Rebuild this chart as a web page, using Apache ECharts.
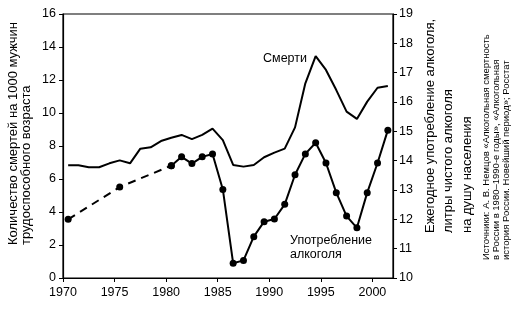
<!DOCTYPE html>
<html>
<head>
<meta charset="utf-8">
<script src="https://cdn.jsdelivr.net/npm/echarts@6/dist/echarts.min.js"></script>
<style>
  html, body { margin: 0; padding: 0; background: #fff; }
  #chart { width: 526px; height: 309px; }
</style>
</head>
<body>
<div id="chart"></div>
<script>
// годы (точки стоят в середине года)
var years = [1970, 1971, 1972, 1973, 1974, 1975, 1976, 1977, 1978, 1979,
  1980, 1981, 1982, 1983, 1984, 1985, 1986, 1987, 1988, 1989,
  1990, 1991, 1992, 1993, 1994, 1995, 1996, 1997, 1998, 1999, 2000, 2001];

// смерти на 1000 мужчин трудоспособного возраста
var deaths = [6.83, 6.83, 6.71, 6.71, 6.95, 7.13, 6.95, 7.84, 7.92, 8.30,
  8.50, 8.67, 8.42, 8.67, 9.05, 8.36, 6.85, 6.75, 6.85, 7.32,
  7.60, 7.84, 9.13, 11.80, 13.45, 12.61, 11.39, 10.08, 9.64, 10.69, 11.53, 11.64];

// потребление алкоголя, 1970-1980 (пунктир)
var alcoEarlyYears = [1970, 1975, 1980];
var alcoEarly = [12.0, 13.1, 13.83];

// потребление алкоголя, 1980-2001
var alcoYears = years.slice(10);
var alco = [13.83, 14.13, 13.90, 14.13, 14.23, 13.02, 10.50, 10.60, 11.41, 11.92,
  12.01, 12.51, 13.52, 14.23, 14.61, 13.92, 12.91, 12.11, 11.71, 12.91, 13.92, 15.04];

var font = '"Liberation Sans", Arial, sans-serif';

function pairs(xs, ys) {
  return xs.map(function (x, i) { return [x + 0.5, ys[i]]; });
}

var myChart = echarts.init(document.getElementById('chart'));

myChart.setOption({
  backgroundColor: '#fff',
  animation: false,
  grid: {
    left: 63, right: 133, top: 14, bottom: 31,
    show: true, borderColor: '#000', borderWidth: 1.2
  },
  xAxis: {
    type: 'value', min: 1970, max: 2002, interval: 5,
    axisLine: { lineStyle: { color: '#000', width: 1.2 } },
    axisTick: { show: true, inside: false, length: 4, lineStyle: { color: '#000' } },
    axisLabel: {
      color: '#000', fontFamily: font, fontSize: 12.5, margin: 8, showMaxLabel: false,
      formatter: function (v) { return String(v); }
    },
    splitLine: { show: false }
  },
  yAxis: [{
    type: 'value', min: 0, max: 16, interval: 2,
    axisLine: { show: true, lineStyle: { color: '#000', width: 1.2 } },
    axisTick: { show: true, length: 4, lineStyle: { color: '#000' } },
    axisLabel: { color: '#000', fontFamily: font, fontSize: 12.5, margin: 7 },
    splitLine: { show: false }
  }, {
    type: 'value', min: 10, max: 19, interval: 1,
    position: 'right',
    axisLine: { show: true, lineStyle: { color: '#000', width: 1.2 } },
    axisTick: { show: true, length: 4, lineStyle: { color: '#000' } },
    axisLabel: { color: '#000', fontFamily: font, fontSize: 12.5, margin: 6 },
    splitLine: { show: false }
  }],
  series: [{
    name: 'Смерти',
    type: 'line',
    yAxisIndex: 0,
    data: pairs(years, deaths),
    symbol: 'none',
    lineStyle: { color: '#000', width: 2 }
  }, {
    name: 'Алкоголь 1970-1980',
    type: 'line',
    yAxisIndex: 1,
    data: pairs(alcoEarlyYears, alcoEarly),
    symbol: 'circle', symbolSize: 7,
    itemStyle: { color: '#000' },
    lineStyle: { color: '#000', width: 2, type: [8, 6] }
  }, {
    name: 'Алкоголь',
    type: 'line',
    yAxisIndex: 1,
    data: pairs(alcoYears, alco),
    symbol: 'circle', symbolSize: 7,
    itemStyle: { color: '#000' },
    lineStyle: { color: '#000', width: 2 }
  }],
  graphic: [{
    type: 'text', x: 307, y: 59,
    style: { text: 'Смерти', font: '12.5px ' + font, fill: '#000', align: 'right', verticalAlign: 'middle' }
  }, {
    type: 'text', x: 290, y: 234,
    style: { text: 'Употребление\nалкоголя', font: '12.5px ' + font, lineHeight: 14, fill: '#000', align: 'left', verticalAlign: 'top' }
  }, {
    type: 'text', x: 7, y: 245, rotation: Math.PI / 2,
    style: {
      text: 'Количество смертей на 1000 мужчин\nтрудоспособного возраста',
      font: '13px ' + font, lineHeight: 13, fill: '#000', align: 'left', verticalAlign: 'top'
    }
  }, {
    type: 'text', x: 421, y: 233, rotation: Math.PI / 2,
    style: {
      text: 'Ежегодное употребление алкоголя,\nлитры чистого алкоголя\nна душу населения',
      font: '13px ' + font, lineHeight: 18.5, fill: '#000', align: 'left', verticalAlign: 'top'
    }
  }, {
    type: 'text', x: 481, y: 260, rotation: Math.PI / 2,
    style: {
      text: 'Источники: А. В. Немцов «Алкогольная смертность\nв России в 1980–1990-е годы», «Алкогольная\nистория России. Новейший период»; Росстат',
      font: '9.5px ' + font, lineHeight: 10, fill: '#000', align: 'left', verticalAlign: 'top'
    }
  }]
});

window.onresize = function () {
  myChart.resize();
};
</script>
</body>
</html>
